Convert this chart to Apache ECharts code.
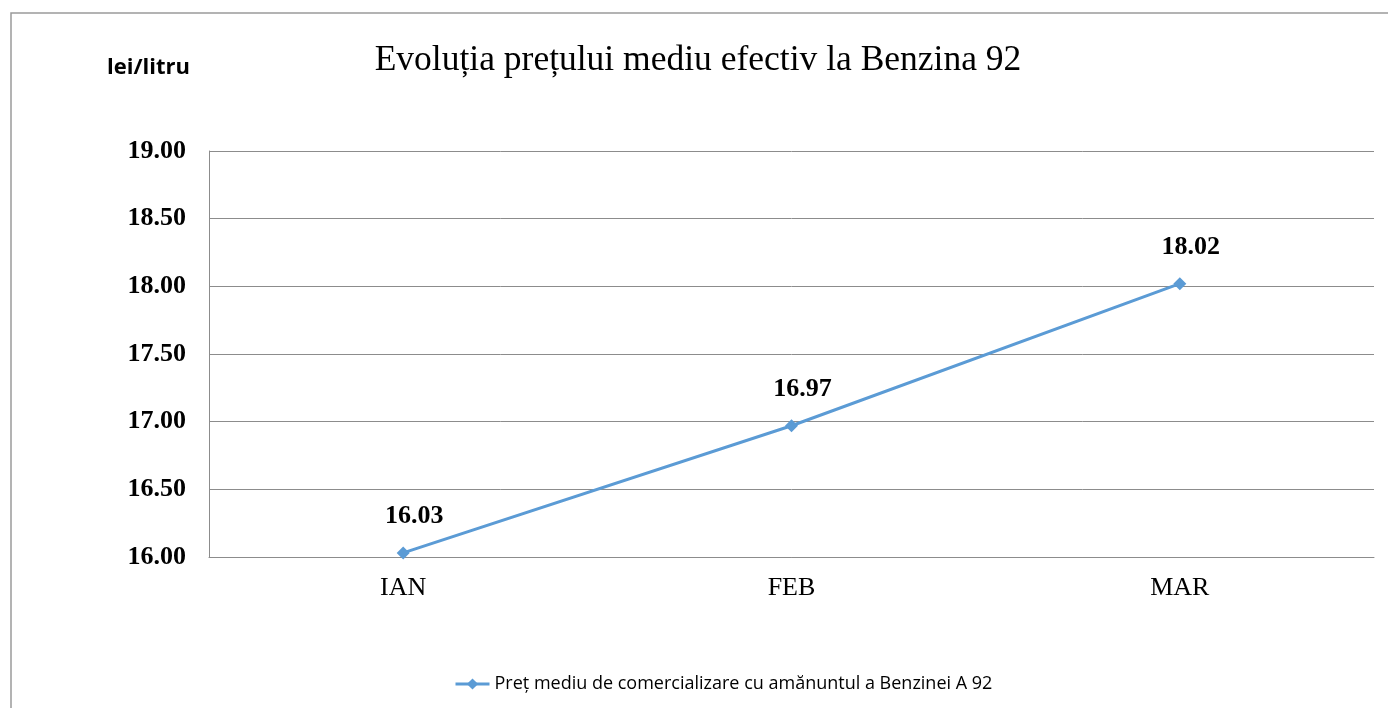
<!DOCTYPE html>
<html>
<head>
<meta charset="utf-8">
<script src="https://cdn.jsdelivr.net/npm/echarts@6/dist/echarts.min.js"></script>
<style>
  html, body { margin: 0; padding: 0; background: #fff; }
  #chart { width: 1388px; height: 708px; }
</style>
</head>
<body>
<div id="chart"></div>
<script>
var months = ['IAN', 'FEB', 'MAR'];
var prices = [16.03, 16.97, 18.02];
var seriesName = 'Preț mediu de comercializare cu amănuntul a Benzinei A 92';

var chart = echarts.init(document.getElementById('chart'));

var option = {
  animation: false,
  title: {
    text: 'Evoluția prețului mediu efectiv la Benzina 92',
    left: 693,
    textAlign: 'center',
    top: 38,
    textStyle: {
      fontFamily: 'Liberation Serif',
      fontWeight: 'normal',
      fontSize: 35.5,
      color: '#000'
    }
  },
  graphic: [
    {
      type: 'rect',
      shape: { x: 11, y: 13, width: 1400, height: 720 },
      style: { fill: 'none', stroke: '#9a9a9a', lineWidth: 1.5 }
    },
    {
      type: 'text',
      left: 107,
      top: 57,
      style: {
        text: 'lei/litru',
        font: 'bold 22px "Open Sans"',
        fill: '#000'
      }
    }
  ],
  legend: {
    data: [seriesName],
    left: 449,
    top: 670,
    itemWidth: 34,
    itemHeight: 14,
    itemGap: 5,
    lineStyle: { width: 3 },
    textStyle: { fontFamily: 'Open Sans', fontSize: 18, color: '#000' }
  },
  grid: {
    left: 209,
    right: 14,
    top: 151,
    bottom: 151
  },
  xAxis: {
    type: 'category',
    data: months,
    boundaryGap: true,
    axisLine: { lineStyle: { color: '#8c8c8c', width: 1 } },
    axisTick: { show: false },
    axisLabel: {
      margin: 18,
      fontFamily: 'Liberation Serif',
      fontSize: 26,
      color: '#000'
    }
  },
  yAxis: {
    type: 'value',
    min: 16,
    max: 19,
    interval: 0.5,
    axisLine: { show: true, lineStyle: { color: '#8c8c8c', width: 1 } },
    axisTick: { show: false },
    splitLine: { lineStyle: { color: '#8c8c8c', width: 1 } },
    axisLabel: {
      margin: 23,
      fontFamily: 'Liberation Serif',
      fontWeight: 'bold',
      fontSize: 26,
      color: '#000',
      formatter: function (v) { return v.toFixed(2); }
    }
  },
  series: [
    {
      name: seriesName,
      type: 'line',
      data: prices,
      symbol: 'diamond',
      symbolSize: 13,
      itemStyle: { color: '#5b9bd5' },
      lineStyle: { color: '#5b9bd5', width: 3 },
      label: {
        show: true,
        position: 'top',
        distance: 17,
        offset: [11, 0],
        fontFamily: 'Liberation Serif',
        fontWeight: 'bold',
        fontSize: 26,
        color: '#000',
        formatter: function (p) { return p.value.toFixed(2); }
      }
    }
  ]
};

chart.setOption(option);
</script>
</body>
</html>
